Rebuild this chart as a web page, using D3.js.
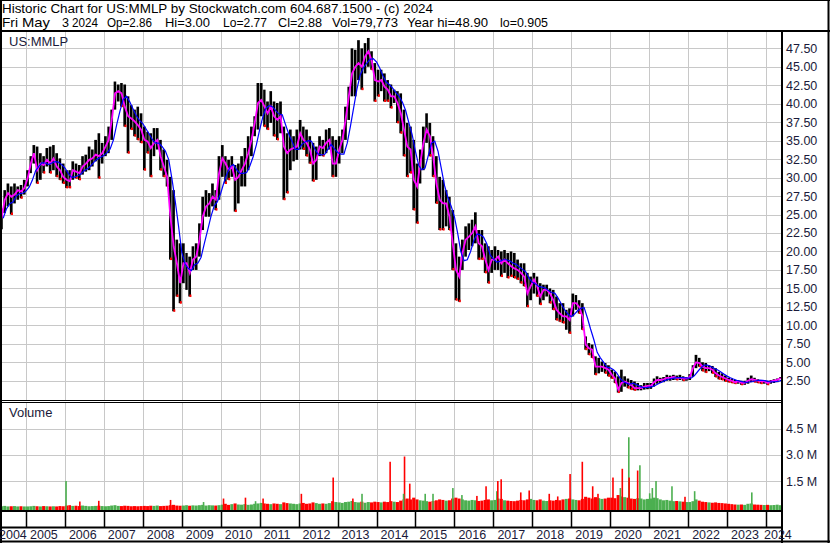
<!DOCTYPE html>
<html>
<head>
<meta charset="utf-8">
<script src="https://cdn.jsdelivr.net/npm/d3@7"></script>
<style>
  body { margin: 0; background: #fff; }
  svg { display: block; font-family: "Liberation Sans", Arial, sans-serif; }
</style>
</head>
<body>
<svg id="chart" width="830" height="543"></svg>
<script>
// Monthly bars, first month is May 2004, last is May 2024.
const high = [
  25.8, 28.3, 29.2, 28.8, 29.2, 28.8, 29.0, 29.7,
  31.0, 32.9, 34.4, 34.2, 33.3, 32.9, 34.0, 34.2, 34.4, 33.3, 32.6, 31.9,
  31.0, 31.0, 32.2, 31.9, 31.7, 32.9, 33.1, 34.2, 33.8, 35.1, 36.0, 34.7,
  35.6, 36.9, 39.2, 43.0, 42.6, 42.8, 42.6, 41.0, 39.8, 39.2, 39.6, 38.7,
  36.9, 36.2, 36.0, 36.7, 36.7, 35.1, 33.8, 32.4, 30.1, 28.3, 21.6, 21.1,
  21.1, 19.8, 19.3, 20.7, 21.1, 23.8, 27.4, 28.3, 27.9, 29.2, 28.3, 32.9,
  34.4, 32.9, 32.4, 32.9, 31.7, 31.9, 32.9, 34.0, 35.6, 36.9, 38.3, 42.8,
  42.8, 41.9, 40.3, 41.7, 40.3, 40.1, 40.3, 36.9, 36.0, 36.5, 35.6, 36.5,
  37.8, 36.9, 36.5, 35.6, 34.7, 34.2, 35.6, 35.1, 36.5, 36.7, 35.6, 35.1,
  35.6, 36.5, 39.6, 42.3, 47.5, 47.3, 48.6, 47.5, 48.2, 48.9, 47.1, 45.5,
  44.6, 44.6, 44.1, 43.2, 42.6, 41.9, 41.7, 41.4, 39.2, 37.4, 36.9, 35.1,
  31.9, 33.8, 36.9, 38.7, 37.4, 35.6, 32.9, 30.1, 29.7, 28.3, 27.4, 25.6,
  21.1, 19.3, 21.6, 23.4, 23.8, 24.3, 25.3, 22.9, 22.9, 21.1, 20.7, 20.2,
  20.7, 20.2, 20.0, 20.2, 19.8, 20.0, 19.8, 18.9, 18.4, 18.4, 17.1, 16.6,
  17.1, 16.6, 15.7, 15.5, 15.5, 15.0, 14.8, 13.9, 13.0, 13.0, 12.1, 12.3,
  14.3, 14.1, 13.4, 13.0, 8.5, 7.6, 7.4, 5.8, 5.6, 5.1, 4.9, 4.6,
  4.0, 3.7, 3.1, 4.0, 3.1, 2.8, 2.6, 2.4, 2.2, 1.9, 2.2, 2.2,
  2.2, 2.8, 3.1, 2.9, 3.0, 3.3, 3.2, 3.3, 3.2, 3.3, 3.1, 3.0,
  3.4, 4.6, 6.0, 5.6, 5.0, 4.9, 4.6, 4.5, 4.2, 3.7, 3.5, 3.2,
  2.9, 2.8, 2.6, 2.6, 2.5, 2.5, 2.9, 3.2, 2.9, 2.7, 2.6, 2.6,
  2.5, 2.6, 2.7, 2.8, 3.0
]
const low = [
  23.0, 25.2, 26.1, 25.0, 26.5, 27.0, 27.2, 27.7,
  28.8, 30.6, 31.9, 29.2, 29.7, 30.6, 31.5, 30.6, 31.0, 30.1, 29.7, 29.2,
  28.6, 28.6, 29.7, 29.9, 29.7, 30.4, 30.8, 31.0, 31.5, 32.2, 29.9, 31.9,
  32.9, 33.3, 35.1, 39.2, 40.3, 39.6, 36.9, 33.3, 36.5, 35.6, 35.1, 34.7,
  31.0, 33.3, 30.1, 32.9, 33.8, 31.0, 30.1, 28.8, 18.9, 11.9, 13.9, 13.0,
  15.7, 14.8, 13.9, 17.5, 17.5, 19.3, 22.9, 24.7, 24.7, 26.1, 25.6, 27.0,
  30.1, 29.2, 29.7, 30.1, 25.4, 26.5, 28.8, 28.8, 31.0, 32.9, 35.6, 36.5,
  38.3, 36.9, 36.5, 37.4, 35.6, 35.1, 36.0, 27.0, 27.9, 31.0, 32.2, 32.4,
  33.8, 33.8, 32.9, 31.9, 29.5, 29.7, 32.9, 32.9, 33.3, 33.8, 30.1, 30.1,
  31.9, 33.3, 35.1, 37.8, 41.0, 41.0, 43.2, 41.9, 44.1, 45.0, 44.6, 40.3,
  41.0, 41.7, 40.3, 40.3, 39.4, 40.1, 37.4, 36.0, 32.9, 30.1, 30.6, 25.6,
  23.8, 29.2, 31.0, 34.7, 32.9, 30.1, 26.5, 22.9, 22.9, 23.4, 22.9, 17.5,
  13.4, 13.2, 17.5, 19.3, 20.2, 20.7, 21.1, 18.9, 18.9, 17.1, 15.7, 17.1,
  17.5, 17.5, 16.6, 17.1, 16.4, 16.6, 16.4, 16.2, 15.7, 15.3, 12.5, 13.4,
  14.3, 13.9, 12.8, 13.4, 13.9, 13.0, 12.1, 10.7, 10.5, 10.3, 9.4, 8.9,
  11.2, 12.1, 11.6, 9.4, 6.7, 6.0, 5.6, 3.3, 3.5, 3.7, 3.5, 3.1,
  2.8, 2.2, 0.9, 1.0, 1.7, 1.5, 1.3, 1.2, 1.2, 1.2, 1.3, 1.35,
  1.4, 1.7, 2.1, 2.2, 2.3, 2.5, 2.5, 2.6, 2.6, 2.6, 2.5, 2.5,
  2.6, 3.0, 4.2, 4.4, 3.8, 3.6, 3.8, 3.5, 3.0, 2.7, 2.6, 2.4,
  2.3, 2.2, 2.1, 2.1, 1.95, 1.95, 2.1, 2.3, 2.3, 2.2, 2.1, 2.1,
  1.95, 2.1, 2.2, 2.3, 2.77
]
// level of the short (magenta) average, read once a month
const avg20 = [
  24.5, 27.0, 27.9, 27.4, 27.7, 28.3, 28.1, 28.6,
  29.9, 31.9, 33.3, 31.0, 31.9, 31.7, 32.4, 31.9, 32.6, 31.5, 31.0, 30.1,
  29.7, 29.5, 31.0, 30.8, 30.6, 31.5, 31.9, 32.4, 32.6, 33.1, 32.9, 33.3,
  34.2, 35.1, 37.8, 41.4, 41.7, 41.4, 39.6, 38.3, 38.0, 37.6, 37.1, 36.5,
  35.1, 34.9, 34.0, 34.7, 35.1, 32.9, 31.5, 30.1, 24.7, 20.7, 18.4, 15.7,
  18.4, 18.4, 17.1, 18.9, 19.3, 21.6, 24.7, 26.1, 26.5, 27.4, 27.0, 30.6,
  32.6, 31.9, 31.0, 31.5, 29.7, 30.1, 31.0, 31.9, 33.3, 35.1, 37.4, 40.1,
  40.5, 39.6, 38.7, 39.6, 38.3, 37.8, 38.3, 34.2, 33.3, 33.8, 34.0, 34.2,
  36.0, 35.1, 34.7, 33.8, 31.9, 32.4, 34.2, 34.0, 34.7, 35.1, 31.9, 31.9,
  33.8, 35.1, 37.8, 41.0, 44.1, 45.0, 45.5, 45.0, 46.4, 47.1, 45.9, 43.2,
  43.0, 43.2, 42.3, 41.9, 41.0, 41.0, 40.1, 38.7, 36.5, 34.2, 33.8, 29.7,
  28.8, 31.9, 34.7, 36.5, 35.6, 32.9, 29.2, 27.0, 26.5, 26.5, 24.7, 21.1,
  17.5, 16.6, 19.8, 21.6, 22.0, 22.5, 23.4, 21.1, 20.7, 18.9, 17.5, 18.9,
  18.9, 19.3, 18.4, 18.9, 18.4, 18.0, 17.7, 17.5, 17.1, 16.6, 14.3, 15.3,
  16.2, 15.3, 13.9, 14.8, 14.8, 14.3, 13.4, 12.1, 11.6, 11.2, 11.2, 10.7,
  13.0, 13.0, 12.5, 11.2, 7.4, 6.9, 6.7, 4.4, 4.4, 4.4, 4.2, 4.0,
  3.3, 2.8, 1.3, 2.2, 2.4, 2.2, 1.9, 1.5, 1.5, 1.5, 1.7, 1.8,
  1.8, 2.3, 2.6, 2.6, 2.7, 2.9, 2.9, 3.0, 2.9, 2.9, 2.8, 2.8,
  3.0, 4.2, 5.0, 4.9, 4.4, 4.2, 4.2, 4.0, 3.5, 3.2, 3.0, 2.8,
  2.6, 2.5, 2.3, 2.4, 2.2, 2.2, 2.5, 2.7, 2.6, 2.5, 2.4, 2.4,
  2.2, 2.4, 2.5, 2.6, 2.88
]
// typical daily volume in each month, millions
const volume = [
  0.06, 0.08, 0.05, 0.06, 0.07, 0.05, 0.06, 0.05,
  0.05, 0.06, 0.08, 0.06, 0.05, 0.07, 0.06, 0.05, 0.06, 0.05, 0.07, 0.06,
  0.10, 0.12, 0.08, 0.09, 0.07, 0.10, 0.08, 0.06, 0.07, 0.08, 0.09, 0.07,
  0.06, 0.07, 0.10, 0.12, 0.08, 0.07, 0.09, 0.08, 0.06, 0.07, 0.06, 0.07,
  0.08, 0.07, 0.09, 0.08, 0.10, 0.07, 0.08, 0.09, 0.12, 0.14, 0.10, 0.09,
  0.10, 0.12, 0.09, 0.11, 0.10, 0.12, 0.14, 0.10, 0.12, 0.11, 0.10, 0.12,
  0.15, 0.20, 0.14, 0.18, 0.22, 0.16, 0.15, 0.18, 0.14, 0.16, 0.20, 0.22,
  0.25, 0.22, 0.20, 0.18, 0.22, 0.20, 0.18, 0.28, 0.24, 0.22, 0.20, 0.18,
  0.22, 0.25, 0.20, 0.22, 0.28, 0.24, 0.20, 0.22, 0.20, 0.24, 0.35, 0.30,
  0.28, 0.25, 0.30, 0.32, 0.36, 0.30, 0.28, 0.32, 0.26, 0.30, 0.28, 0.32,
  0.30, 0.28, 0.32, 0.30, 0.35, 0.32, 0.30, 0.38, 0.45, 0.50, 0.45, 0.55,
  0.45, 0.40, 0.38, 0.35, 0.32, 0.36, 0.40, 0.45, 0.42, 0.38, 0.40, 0.50,
  0.55, 0.50, 0.45, 0.40, 0.38, 0.42, 0.40, 0.36, 0.38, 0.42, 0.45, 0.40,
  0.42, 0.50, 0.48, 0.40, 0.38, 0.36, 0.35, 0.38, 0.42, 0.40, 0.45, 0.48,
  0.42, 0.40, 0.45, 0.38, 0.36, 0.40, 0.38, 0.42, 0.40, 0.45, 0.48, 0.50,
  0.45, 0.42, 0.40, 0.48, 0.60, 0.55, 0.50, 0.58, 0.52, 0.48, 0.50, 0.55,
  0.55, 0.52, 0.70, 0.62, 0.58, 0.55, 0.50, 0.48, 0.52, 0.50, 0.45, 0.48,
  0.50, 0.55, 0.52, 0.45, 0.40, 0.42, 0.38, 0.35, 0.36, 0.34, 0.32, 0.30,
  0.30, 0.35, 0.45, 0.38, 0.32, 0.30, 0.28, 0.26, 0.28, 0.25, 0.24, 0.22,
  0.20, 0.18, 0.16, 0.15, 0.16, 0.14, 0.20, 0.22, 0.16, 0.15, 0.14, 0.13,
  0.14, 0.12, 0.13, 0.15, 0.12
]
// single heavy days: [month index (fractional), volume M, up day]
const volumeSpikes = [
  [20.1, 1.5, 1], [24.4, 0.33, 0], [30.2, 0.37, 0], [52.3, 0.42, 0], [62.5, 0.3, 1],
  [68.6, 0.5, 0], [75.4, 0.55, 0], [78.5, 0.35, 1], [80.8, 0.5, 0], [92.6, 0.77, 0],
  [102.4, 1.7, 0], [108.5, 0.5, 0], [111.3, 0.77, 1], [120.0, 2.6, 0], [124.4, 2.9, 0],
  [124.1, 0.77, 1], [126.0, 1.35, 0], [130.8, 0.77, 1], [133.2, 0.77, 1], [139.3, 1.1, 1],
  [142.1, 0.7, 1], [146.7, 0.65, 0], [149.5, 1.2, 0], [152.8, 0.92, 1], [153.1, 1.5, 0],
  [154.2, 1.6, 0], [160.2, 0.85, 0], [162.8, 0.96, 0], [169.0, 0.77, 0], [171.6, 0.62, 0],
  [175.4, 1.9, 0], [179.2, 2.6, 0], [182.4, 1.2, 0], [184.0, 0.77, 0], [188.6, 1.7, 0],
  [190.9, 1.1, 1], [191.5, 2.2, 0], [193.5, 4.0, 1], [193.6, 1.7, 0], [196.2, 2.1, 0],
  [196.9, 2.4, 1], [199.9, 0.8, 1], [200.7, 1.1, 1], [201.9, 1.5, 1], [206.8, 1.2, 1],
  [210.8, 0.6, 0], [213.8, 0.92, 1], [231.4, 0.85, 1]
]
const years = d3.range(2004, 2025)
const priceTicks = d3.range(1, 20).map(function(k) { return k * 2.5 })
const volumeTicks = [1.5, 3.0, 4.5]

const headerLine1 = "Historic Chart for US:MMLP by Stockwatch.com 604.687.1500 - (c) 2024"
// second header line: [text, left x, width]
const headerLine2 = [
  ["Fri", 2, 16], ["May", 22, 28], ["3", 62, 7], ["2024", 72, 26],
  ["Op=2.86", 107, 45], ["Hi=3.00", 165, 45], ["Lo=2.77", 223, 44],
  ["Cl=2.88", 278, 44], ["Vol=79,773", 332, 66], ["Year hi=48.90", 407, 81],
  ["lo=0.905", 500, 48]
]

const W = 830, H = 543
const plotLeft = 2, plotRight = 781
const priceTop = 32, priceBottom = 400
const volTop = 403, volBottom = 510
const gridColor = "#c8c8c8"
const upGreen = "#4caf50"
const labelColor = "#1a1a3a"

const svg = d3.select("#chart")

function monthDate(i) { return new Date(2004, 4 + i, 1) }

const x = d3.scaleTime()
  .domain([new Date(2005, 0, 1), new Date(2024, 0, 1)])
  .range([26, 766])
const y = d3.scaleLinear().domain([0, 47.5]).range([399.2, 48.3])
const vy = d3.scaleLinear().domain([0, 4.5]).range([507.3, 428.5])

function monthX(m) {
  // fractional month index -> pixel
  let i = Math.floor(m)
  let x0 = x(monthDate(i)), x1 = x(monthDate(i + 1))
  return x0 + (m - i) * (x1 - x0)
}

svg.append("rect").attr("width", W).attr("height", H).attr("fill", "#fff")

let defs = svg.append("defs")
defs.append("clipPath").attr("id", "clipPrice").append("rect")
  .attr("x", plotLeft).attr("y", priceTop)
  .attr("width", plotRight - plotLeft).attr("height", priceBottom - priceTop)
defs.append("clipPath").attr("id", "clipVol").append("rect")
  .attr("x", plotLeft).attr("y", volTop)
  .attr("width", plotRight - plotLeft).attr("height", volBottom - volTop)

// grid
let grid = svg.append("g").attr("stroke", gridColor).attr("stroke-width", 1)
grid.selectAll(".hp").data(priceTicks).enter().append("line")
  .attr("x1", plotLeft).attr("x2", plotRight)
  .attr("y1", function(d) { return Math.round(y(d)) + 0.5 })
  .attr("y2", function(d) { return Math.round(y(d)) + 0.5 })
grid.selectAll(".hv").data(volumeTicks).enter().append("line")
  .attr("x1", plotLeft).attr("x2", plotRight)
  .attr("y1", function(d) { return Math.round(vy(d)) + 0.5 })
  .attr("y2", function(d) { return Math.round(vy(d)) + 0.5 })
let yearLines = years.slice(1)
grid.selectAll(".vp").data(yearLines).enter().append("line")
  .attr("x1", function(d) { return Math.round(x(new Date(d, 0, 1))) + 0.5 })
  .attr("x2", function(d) { return Math.round(x(new Date(d, 0, 1))) + 0.5 })
  .attr("y1", priceTop).attr("y2", priceBottom)
grid.selectAll(".vv").data(yearLines).enter().append("line")
  .attr("x1", function(d) { return Math.round(x(new Date(d, 0, 1))) + 0.5 })
  .attr("x2", function(d) { return Math.round(x(new Date(d, 0, 1))) + 0.5 })
  .attr("y1", volTop).attr("y2", volBottom)

// price bars
let months = d3.range(high.length)
let price = svg.append("g").attr("clip-path", "url(#clipPrice)")
price.selectAll(".bar").data(months).enter().append("rect")
  .attr("x", function(i) { return monthX(i) + 0.2 })
  .attr("width", function(i) { return Math.max(1.5, monthX(i + 1) - monthX(i) - 0.6) })
  .attr("y", function(i) { return y(high[i]) })
  .attr("height", function(i) { return Math.max(1.5, y(low[i]) - y(high[i])) })
  .attr("fill", "#000")

// red marks at the lows of falling months
price.selectAll(".tick").data(months.filter(function(i) { return i > 0 && avg20[i] < avg20[i - 1] }))
  .enter().append("rect")
  .attr("x", function(i) { return monthX(i + 1) - 2 })
  .attr("width", 2)
  .attr("y", function(i) { return y(low[i]) - 2 })
  .attr("height", 2.5)
  .attr("fill", "#ff0000")

// magenta: short average; blue: longer average built from it (lags ~2 months)
let magenta = months.map(function(i) { return [monthX(i + 0.5), avg20[i]] })
let blue = months.map(function(i) {
  return [monthX(i + 1), d3.mean(avg20.slice(Math.max(0, i - 3), i + 1))]
})
let line = d3.line().x(function(d) { return d[0] }).y(function(d) { return y(d[1]) })
price.append("path").attr("d", line(magenta))
  .attr("fill", "none").attr("stroke", "#ff00ff").attr("stroke-width", 1.8)
price.append("path").attr("d", line(blue))
  .attr("fill", "none").attr("stroke", "#0000ff").attr("stroke-width", 1.2)

// volume
let vol = svg.append("g").attr("clip-path", "url(#clipVol)")
vol.selectAll(".vb").data(months).enter().append("rect")
  .attr("x", function(i) { return monthX(i) })
  .attr("width", function(i) { return monthX(i + 1) - monthX(i) - 0.2 })
  .attr("y", function(i) { return vy(volume[i]) })
  .attr("height", function(i) { return volBottom - vy(volume[i]) })
  .attr("fill", function(i) { return (i == 0 || avg20[i] >= avg20[i - 1]) ? upGreen : "#ff0000" })
vol.selectAll(".vs").data(volumeSpikes).enter().append("rect")
  .attr("x", function(d) { return monthX(d[0]) })
  .attr("width", 1.6)
  .attr("y", function(d) { return vy(d[1]) })
  .attr("height", function(d) { return volBottom - vy(d[1]) })
  .attr("fill", function(d) { return d[2] ? upGreen : "#ff0000" })

// frame
let frame = svg.append("g").attr("stroke", "#000").attr("fill", "none")
frame.append("line").attr("x1", 0).attr("x2", W).attr("y1", 0.5).attr("y2", 0.5)
frame.append("line").attr("x1", 1).attr("x2", 1).attr("y1", 0).attr("y2", H).attr("stroke-width", 2)
frame.append("line").attr("x1", W - 1.5).attr("x2", W - 1.5).attr("y1", 0).attr("y2", H).attr("stroke-width", 2)
frame.append("line").attr("x1", 0).attr("x2", W).attr("y1", 31).attr("y2", 31).attr("stroke-width", 2)
frame.append("line").attr("x1", plotRight + 1).attr("x2", plotRight + 1).attr("y1", 31).attr("y2", H).attr("stroke-width", 2)
frame.append("line").attr("x1", 0).attr("x2", plotRight).attr("y1", 400.5).attr("y2", 400.5)
frame.append("line").attr("x1", 0).attr("x2", plotRight).attr("y1", 402.5).attr("y2", 402.5)
frame.append("line").attr("x1", 0).attr("x2", plotRight).attr("y1", 511).attr("y2", 511).attr("stroke-width", 2)
frame.append("line").attr("x1", 0).attr("x2", plotRight).attr("y1", 527.5).attr("y2", 527.5).attr("stroke-width", 2)
frame.append("line").attr("x1", 0).attr("x2", W).attr("y1", 541.5).attr("y2", 541.5).attr("stroke-width", 2)
frame.selectAll(".yt").data(yearLines).enter().append("line")
  .attr("x1", function(d) { return Math.round(x(new Date(d, 0, 1))) + 0.5 })
  .attr("x2", function(d) { return Math.round(x(new Date(d, 0, 1))) + 0.5 })
  .attr("y1", 511).attr("y2", 527).attr("stroke-width", 1.5)

// text
let txt = svg.append("g").attr("fill", "#000")
txt.append("text").attr("x", 2).attr("y", 13).attr("font-size", 13)
  .attr("textLength", 431).attr("lengthAdjust", "spacingAndGlyphs").text(headerLine1)
txt.selectAll(".h2").data(headerLine2).enter().append("text")
  .attr("x", function(d) { return d[1] }).attr("y", 27).attr("font-size", 13)
  .attr("textLength", function(d) { return d[2] }).attr("lengthAdjust", "spacingAndGlyphs")
  .text(function(d) { return d[0] })
txt.append("text").attr("x", 9).attr("y", 45.5).attr("font-size", 13).attr("fill", labelColor).text("US:MMLP")
txt.append("text").attr("x", 9).attr("y", 417).attr("font-size", 13).attr("fill", labelColor).text("Volume")

txt.selectAll(".pl").data(priceTicks).enter().append("text")
  .attr("x", 786).attr("y", function(d) { return y(d) + 4.5 })
  .attr("font-size", 12.5).attr("fill", labelColor)
  .text(function(d) { return d.toFixed(2) })
txt.selectAll(".vl").data(volumeTicks).enter().append("text")
  .attr("x", 786).attr("y", function(d) { return vy(d) + 4.5 })
  .attr("font-size", 12.5).attr("fill", labelColor)
  .text(function(d) { return d.toFixed(1) + " M" })

txt.selectAll(".yl").data(years).enter().append("text")
  .attr("x", function(d) {
    if (d == 2004) return x(new Date(2005, 0, 1)) - 27
    if (d == 2024) return x(new Date(2024, 0, 1)) - 2
    return x(new Date(d, 0, 1)) + 4
  })
  .attr("y", 539).attr("font-size", 12.5).attr("fill", labelColor)
  .text(function(d) { return d })
</script>
</body>
</html>
